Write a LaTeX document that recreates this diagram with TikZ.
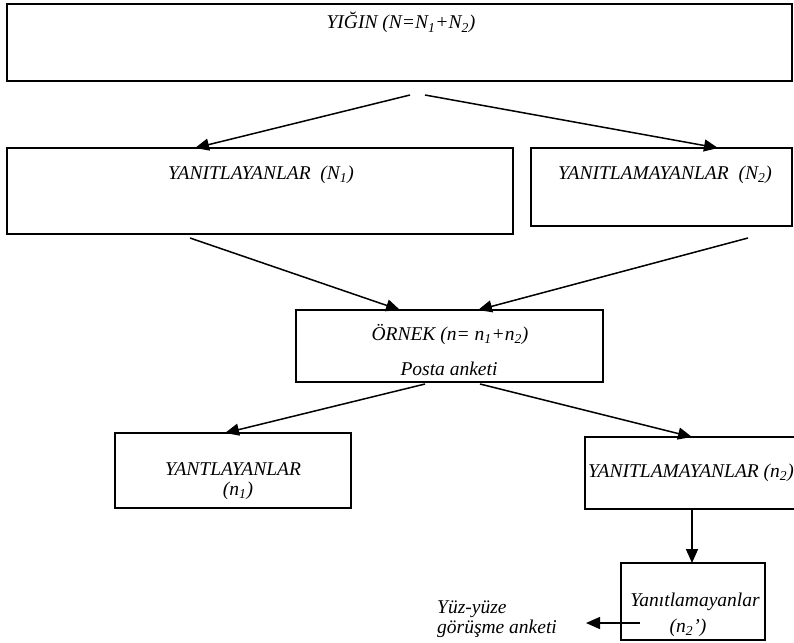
\documentclass[tikz,border=0pt]{standalone}
\usepackage{fontspec}
\setmainfont{Liberation Serif}
\usetikzlibrary{arrows.meta}
\tikzset{
  box/.style={draw=black, line width=1.6pt, fill=none, inner sep=0pt},
  lbl/.style={inner sep=0pt, font=\fontsize{19.5}{22}\selectfont\itshape, text=black},
  arr/.style={draw=black, line width=1.5pt, -{Triangle[length=14pt,width=12pt]}},
}
\begin{document}
\begin{tikzpicture}[x=1pt,y=-1pt]
\useasboundingbox (0,0) rectangle (794,642);
\clip (0,0) rectangle (794,642);
% boxes
\node[box, line width=2pt, minimum width=785pt, minimum height=77pt] (pop) at (399.5,42.5) {};
\node[box, minimum width=506pt, minimum height=86pt] (resp) at (260,191) {};
\node[box, minimum width=261pt, minimum height=78pt] (nonresp) at (661.5,187) {};
\node[box, minimum width=307pt, minimum height=72pt] (sample) at (449.5,346) {};
\node[box, minimum width=236pt, minimum height=75pt] (sresp) at (233,470.5) {};
\node[box, minimum width=235pt, minimum height=72pt] (snon) at (702.5,473) {};
\node[box, minimum width=144pt, minimum height=77pt] (last) at (693,601.5) {};
% texts
\node[lbl, anchor=base] (tpop) at (401,29) {YIĞIN (N=N\textsubscript{1}+N\textsubscript{2})};
\node[lbl, anchor=base] (tresp) at (261,179) {YANITLAYANLAR\ \ (N\textsubscript{1})};
\node[lbl, anchor=base] (tnon) at (665,179) {YANITLAMAYANLAR\ \ (N\textsubscript{2})};
\node[lbl, anchor=base] (tsamp) at (450,340) {ÖRNEK (n= n\textsubscript{1}+n\textsubscript{2})};
\node[lbl, anchor=base] (tpost) at (449,375) {Posta anketi};
\node[lbl, anchor=base] (tsresp) at (233,475) {YANTLAYANLAR};
\node[lbl, anchor=base] (tsresp2) at (238,495) {(n\textsubscript{1})};
\node[lbl, anchor=base west] (tsnon) at (588,477) {YANITLAMAYANLAR (n\textsubscript{2})};
\node[lbl, anchor=base] (tlast) at (695,606) {Yanıtlamayanlar};
\node[lbl, anchor=base] (tlast2) at (688,632) {(n\textsubscript{2}’)};
\node[lbl, anchor=base west] (tface) at (437,613) {Yüz-yüze};
\node[lbl, anchor=base west] (tface2) at (437,633) {görüşme anketi};
% connector ends
\coordinate (a1s) at (410,95);  \coordinate (a1e) at (195,148);
\coordinate (a2s) at (425,95);  \coordinate (a2e) at (718,148);
\coordinate (a3s) at (190,238); \coordinate (a3e) at (400,310);
\coordinate (a4s) at (748,238); \coordinate (a4e) at (478,310);
\coordinate (a5s) at (425,384); \coordinate (a5e) at (225,433);
\coordinate (a6s) at (480,384); \coordinate (a6e) at (692,437);
\coordinate (a7s) at (692,510); \coordinate (a7e) at (692,563);
\coordinate (a8s) at (640,623); \coordinate (a8e) at (586,623);
\draw[arr] (a1s) -- (a1e);
\draw[arr] (a2s) -- (a2e);
\draw[arr] (a3s) -- (a3e);
\draw[arr] (a4s) -- (a4e);
\draw[arr] (a5s) -- (a5e);
\draw[arr] (a6s) -- (a6e);
\draw[arr] (a7s) -- (a7e);
\draw[arr] (a8s) -- (a8e);
\end{tikzpicture}
\end{document}
